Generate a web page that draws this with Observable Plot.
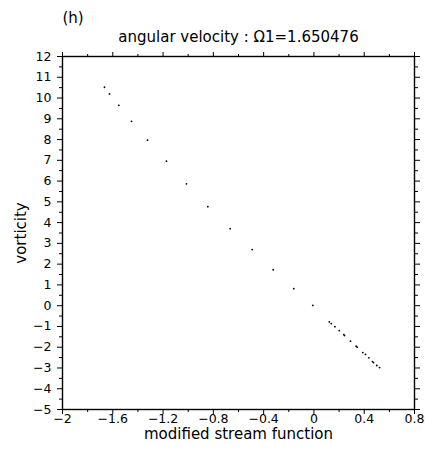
<!DOCTYPE html>
<html><head><meta charset="utf-8">
<script src="https://cdn.jsdelivr.net/npm/d3@7"></script>
<script src="https://cdn.jsdelivr.net/npm/@observablehq/plot@0.6"></script>
<style>
body{margin:0;background:white;}
</style>
</head><body><div id="chart"></div>
<script>
const psi = [-1.666,-1.626,-1.552,-1.451,-1.324,-1.173,-1.014,-0.844,-0.666,-0.491,-0.324,-0.160,-0.009,0.122,0.138,0.167,0.201,0.238,0.243,0.291,0.336,0.344,0.389,0.410,0.437,0.466,0.474,0.500,0.522];
const vort = [10.52,10.20,9.65,8.88,7.97,6.96,5.87,4.77,3.71,2.70,1.73,0.82,0.01,-0.78,-0.86,-1.01,-1.20,-1.39,-1.44,-1.71,-1.95,-2.00,-2.26,-2.35,-2.51,-2.69,-2.74,-2.88,-2.98];
const xMajor = [-2,-1.6,-1.2,-0.8,-0.4,0,0.4,0.8];
const xMinor = [-1.8,-1.4,-1,-0.6,-0.2,0.2,0.6];
const yMajor = d3.range(-5,13,1);
const yMinor = d3.range(-4.5,12,1);
const title = "angular velocity : Ω1=1.650476";
const panel = "(h)";
const xLabel = "modified stream function";
const yLabel = "vorticity";

const data = psi.map((p,i)=>({x:p,y:vort[i]}));
const fmt = d => (d<0?"\u2212":"") + String(Math.abs(d));
const none = () => "";
const chart = Plot.plot({
  width:425, height:456,
  marginLeft:62, marginRight:11, marginTop:56, marginBottom:47,
  style:{fontFamily:"DejaVu Sans", fontSize:"12px", background:"white", color:"black"},
  x:{domain:[-2,0.8]},
  y:{domain:[-5,12]},
  marks:[
    Plot.axisX(xMajor,{anchor:"bottom", tickSize:5, tickFormat:none, label:null}),
    Plot.axisX(xMinor,{anchor:"bottom", tickSize:3, tickFormat:none, label:null}),
    Plot.axisX(xMajor,{anchor:"top", tickSize:5, tickFormat:none, label:null}),
    Plot.axisX(xMinor,{anchor:"top", tickSize:3, tickFormat:none, label:null}),
    Plot.axisY(yMajor,{anchor:"left", tickSize:5, tickFormat:none, label:null}),
    Plot.axisY(yMinor,{anchor:"left", tickSize:3, tickFormat:none, label:null}),
    Plot.axisY(yMajor,{anchor:"right", tickSize:5, tickFormat:none, label:null}),
    Plot.axisY(yMinor,{anchor:"right", tickSize:3, tickFormat:none, label:null}),
    Plot.text(xMajor,{x:d=>d, frameAnchor:"bottom", lineAnchor:"top", dy:5, text:fmt, fontSize:12.5}),
    Plot.text(yMajor,{y:d=>d, frameAnchor:"left", textAnchor:"end", lineAnchor:"middle", dx:-11, text:fmt, fontSize:12.5}),
    Plot.frame({stroke:"black", strokeWidth:1.4}),
    Plot.dot(data,{x:"x", y:"y", r:0.9, fill:"black", stroke:null}),
    Plot.text([title],{frameAnchor:"top", lineAnchor:"middle", dy:-19, fontSize:15}),
    Plot.text([panel],{frameAnchor:"top-left", textAnchor:"start", lineAnchor:"middle", dy:-38, fontSize:15}),
    Plot.text([xLabel],{frameAnchor:"bottom", lineAnchor:"middle", dy:25, fontSize:15}),
    Plot.text([yLabel],{frameAnchor:"left", textAnchor:"middle", rotate:-90, lineAnchor:"middle", dx:-41, fontSize:15})
  ]
});
document.getElementById("chart").appendChild(chart);
</script></body></html>
